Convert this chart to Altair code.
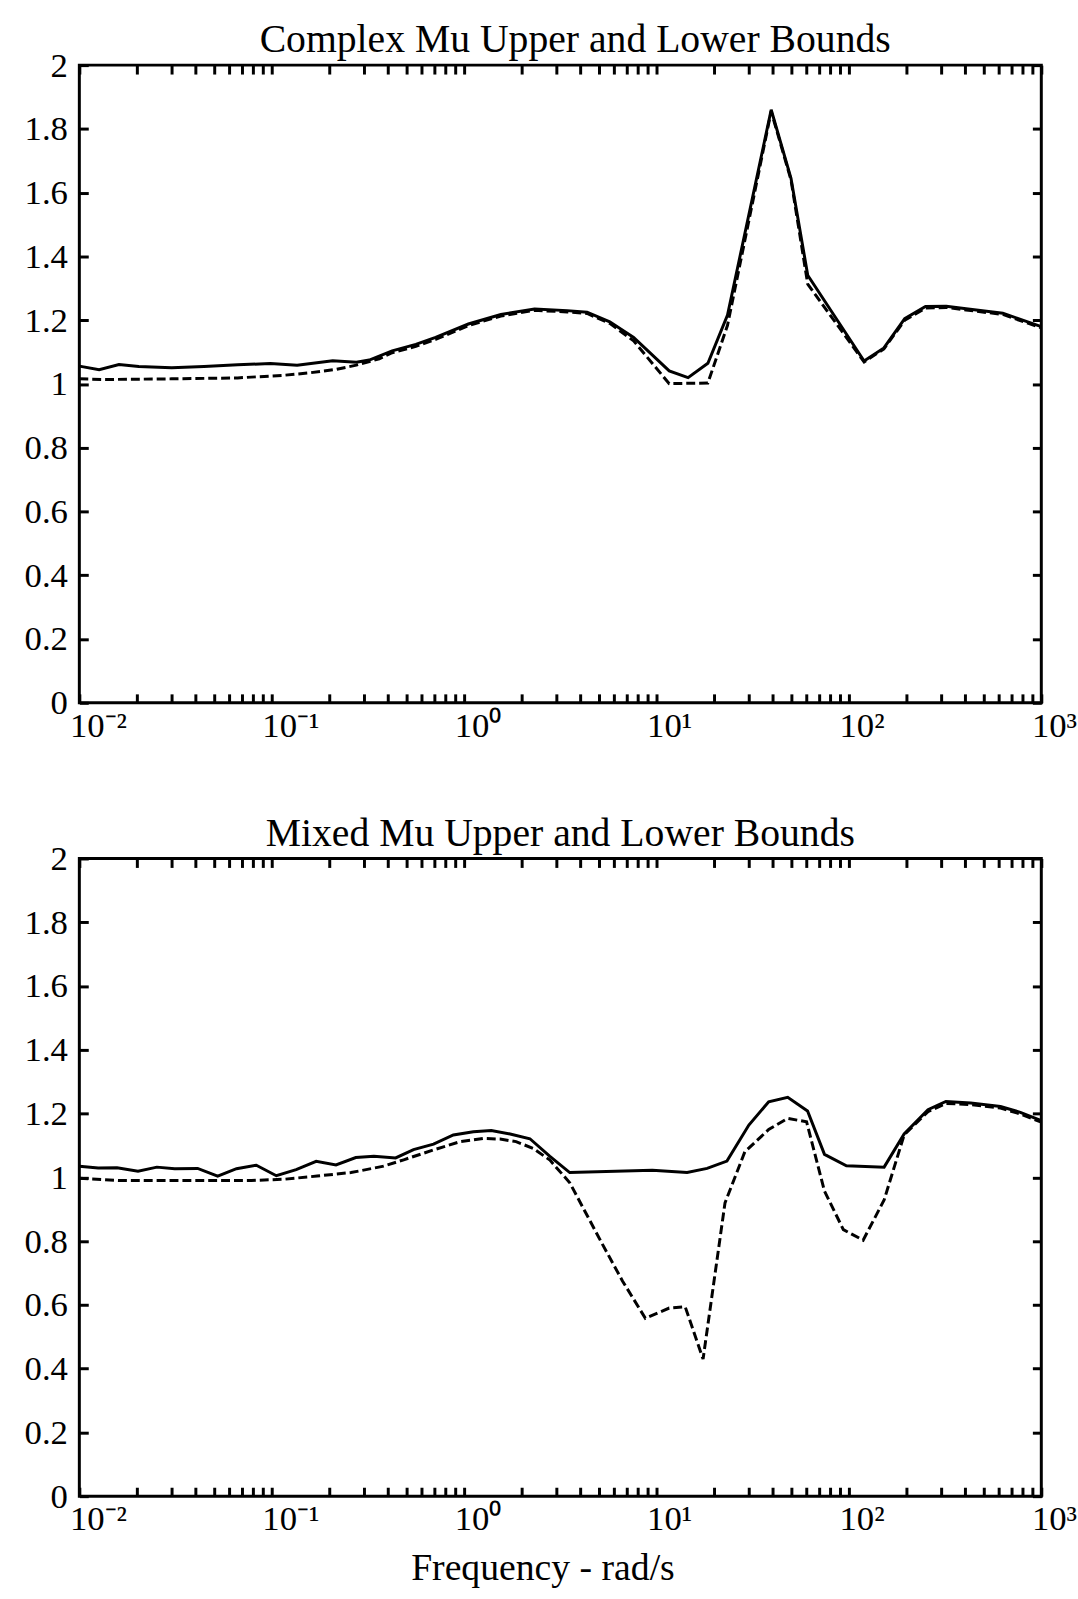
import altair as alt
import pandas as pd

FONT = "Liberation Serif"

# ---------------- data (log10 of frequency, mu) ----------------
# Top panel: Complex Mu
cx_up_logf = [-2.0, -1.897, -1.794, -1.691, -1.52, -1.352, -1.177, -1.007, -0.868, -0.683,
              -0.56, -0.493, -0.374, -0.251, -0.148, 0.022, 0.191, 0.366, 0.536, 0.639,
              0.757, 0.881, 1.066, 1.164, 1.267, 1.369, 1.596, 1.699, 1.786, 2.079,
              2.182, 2.29, 2.398, 2.506, 2.609, 2.8, 2.918, 3.0]
cx_up_mu = [1.056, 1.045, 1.061, 1.055, 1.051, 1.055, 1.060, 1.064, 1.059, 1.073,
            1.068, 1.075, 1.104, 1.124, 1.146, 1.188, 1.218, 1.235, 1.230, 1.225,
            1.195, 1.146, 1.041, 1.020, 1.065, 1.216, 1.86, 1.645, 1.341, 1.072,
            1.113, 1.205, 1.243, 1.244, 1.236, 1.222, 1.197, 1.18]

cx_lo_logf = [-2.0, -1.866, -1.52, -1.177, -0.94, -0.801, -0.663, -0.56, -0.441, -0.374,
              -0.251, -0.148, 0.022, 0.191, 0.366, 0.536, 0.639, 0.757, 0.881, 1.066,
              1.164, 1.267, 1.369, 1.596, 1.699, 1.786, 2.079, 2.182, 2.29, 2.398,
              2.506, 2.609, 2.8, 2.918, 3.0]
cx_lo_mu = [1.016, 1.014, 1.016, 1.019, 1.027, 1.035, 1.046, 1.059, 1.079, 1.098,
            1.118, 1.140, 1.183, 1.213, 1.231, 1.226, 1.221, 1.19, 1.135, 1.001,
            1.002, 1.003, 1.184, 1.855, 1.64, 1.313, 1.069, 1.11, 1.2, 1.238,
            1.24, 1.232, 1.218, 1.193, 1.176]

# Bottom panel: Mixed Mu
mx_up_logf = [-2.0, -1.902, -1.804, -1.695, -1.597, -1.504, -1.385, -1.281, -1.183, -1.080,
              -0.976, -0.873, -0.769, -0.666, -0.563, -0.469, -0.356, -0.263, -0.159, -0.056,
              0.048, 0.141, 0.239, 0.342, 0.446, 0.549, 0.978, 1.159, 1.263, 1.366,
              1.480, 1.583, 1.682, 1.785, 1.873, 1.987, 2.183, 2.287, 2.411, 2.504,
              2.633, 2.788, 2.891, 3.0]
mx_up_mu = [1.035, 1.029, 1.030, 1.019, 1.032, 1.027, 1.028, 1.004, 1.027, 1.038,
            1.005, 1.024, 1.050, 1.039, 1.062, 1.066, 1.061, 1.087, 1.104, 1.133,
            1.143, 1.147, 1.136, 1.121, 1.066, 1.015, 1.022, 1.015, 1.028, 1.051,
            1.164, 1.237, 1.251, 1.208, 1.072, 1.036, 1.032, 1.136, 1.212, 1.238,
            1.233, 1.222, 1.204, 1.178]

mx_lo_logf = [-2.0, -1.798, -1.452, -1.105, -0.935, -0.764, -0.588, -0.418, -0.314, -0.159,
              -0.02, 0.099, 0.187, 0.27, 0.358, 0.446, 0.549, 0.720, 0.823, 0.942,
              1.066, 1.149, 1.242, 1.356, 1.459, 1.583, 1.682, 1.780, 1.873, 1.971,
              2.074, 2.183, 2.287, 2.411, 2.504, 2.633, 2.788, 2.891, 3.0]
mx_lo_mu = [0.997, 0.990, 0.990, 0.990, 0.994, 1.004, 1.015, 1.035, 1.055, 1.086,
            1.112, 1.122, 1.120, 1.112, 1.091, 1.054, 0.983, 0.789, 0.675, 0.558,
            0.590, 0.594, 0.430, 0.920, 1.080, 1.150, 1.185, 1.174, 0.957, 0.836,
            0.803, 0.929, 1.133, 1.206, 1.232, 1.228, 1.217, 1.199, 1.173]

titles = ["Complex Mu Upper and Lower Bounds", "Mixed Mu Upper and Lower Bounds"]
x_title = "Frequency - rad/s"

major_ticks = [0.01, 0.1, 1, 10, 100, 1000]
major_labels = ["10\u207b\u00b2", "10\u207b\u00b9", "10\u2070", "10\u00b9", "10\u00b2", "10\u00b3"]
y_ticks = [0, 0.2, 0.4, 0.6, 0.8, 1.0, 1.2, 1.4, 1.6, 1.8, 2.0]

# minor+major tick positions on the log axis
x_ticks = []
for e in range(-2, 3):
    for k in range(1, 10):
        x_ticks.append(round(k * 10 ** e, 6))
x_ticks.append(1000)

label_expr = " : ".join(
    f"abs(datum.value - {v}) < {v}*1e-6 ? '{lab}'" for v, lab in zip(major_ticks, major_labels)
) + " : ''"


def frame(up_logf, up_mu, lo_logf, lo_mu):
    up = pd.DataFrame({"freq": [10 ** v for v in up_logf], "mu": up_mu})
    lo = pd.DataFrame({"freq": [10 ** v for v in lo_logf], "mu": lo_mu})
    return up, lo


TICK = alt.ExprRef(expr="-9")


def panel(up, lo, title, show_xtitle, title_dx):
    xscale = alt.Scale(type="log", domain=[0.01, 1000], nice=False)
    yscale = alt.Scale(domain=[0, 2], nice=False, zero=False)

    common_x = dict(
        orient="bottom", values=x_ticks, labelExpr=label_expr, domain=False, grid=False,
        tickSize=TICK, tickWidth=3, tickColor="black", labelFont=FONT, labelFontSize=35,
        labelColor="black", labelPadding=15, labelOverlap=False, labelFlush=False,
        labelAlign="left", labelOffset=-10, labelBaseline="top",
    )
    if show_xtitle:
        x_axis_bottom = alt.Axis(
            title=x_title, titleFont=FONT, titleFontSize=38, titleFontWeight="normal",
            titleColor="black", titlePadding=13, titleX=467, **common_x,
        )
    else:
        x_axis_bottom = alt.Axis(title=None, **common_x)
    y_axis_left = alt.Axis(
        orient="left", values=y_ticks, format="~g", domain=False, grid=False,
        tickSize=TICK, tickWidth=3, tickColor="black", labelFont=FONT, labelFontSize=35,
        labelColor="black", labelPadding=21, labelOverlap=False, labelFlush=False, title=None,
    )
    x_axis_top = alt.Axis(
        orient="top", values=x_ticks, labels=False, domain=False, grid=False,
        tickSize=TICK, tickWidth=3, tickColor="black", title=None, minExtent=0, maxExtent=0,
    )
    y_axis_right = alt.Axis(
        orient="right", values=y_ticks, labels=False, domain=False, grid=False,
        tickSize=TICK, tickWidth=3, tickColor="black", title=None, minExtent=0, maxExtent=0,
    )

    solid = alt.Chart(up).mark_line(color="black", strokeWidth=3, clip=True).encode(
        x=alt.X("freq:Q", scale=xscale, axis=x_axis_bottom),
        y=alt.Y("mu:Q", scale=yscale, axis=y_axis_left),
    )
    dashed = alt.Chart(lo).mark_line(color="black", strokeWidth=3, strokeDash=[9, 4], clip=True).encode(
        x=alt.X("freq:Q", scale=xscale, axis=x_axis_top),
        y=alt.Y("mu:Q", scale=yscale, axis=y_axis_right),
    )
    return alt.layer(solid, dashed).resolve_axis(x="independent", y="independent").properties(
        width=970, height=643,
        title=alt.TitleParams(title, font=FONT, fontSize=40, fontWeight="normal", color="black",
                              offset=-12, dx=title_dx, anchor="middle"),
    )


cu, cl = frame(cx_up_logf, cx_up_mu, cx_lo_logf, cx_lo_mu)
mu_, ml = frame(mx_up_logf, mx_up_mu, mx_lo_logf, mx_lo_mu)

top = panel(cu, cl, titles[0], False, 15)
bottom = panel(mu_, ml, titles[1], True, 0)

chart = alt.vconcat(top, bottom, spacing=67).properties(
    padding={"left": 22, "top": 12, "right": 0, "bottom": 0},
    background="white",
).configure_view(stroke="black", strokeWidth=3)

chart.save("out.html", embed_options={"renderer": "svg", "actions": False})
